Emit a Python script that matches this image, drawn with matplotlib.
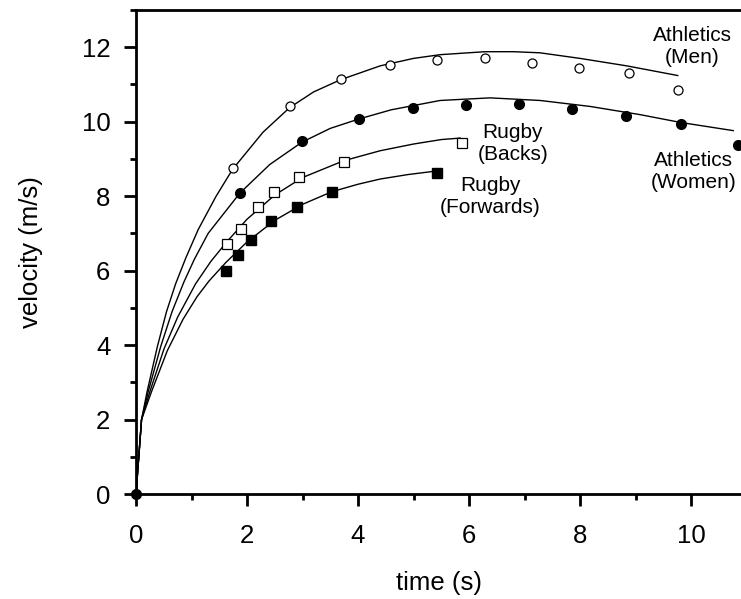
import numpy as np
import matplotlib.pyplot as plt
from matplotlib.ticker import MultipleLocator

plt.rcParams['font.family'] = ['Liberation Sans', 'DejaVu Sans']

# measured points
men_t = [1.74, 2.78, 3.69, 4.57, 5.43, 6.29, 7.13, 7.99, 8.88, 9.76]
men_v = [8.76, 10.42, 11.15, 11.51, 11.65, 11.70, 11.57, 11.45, 11.30, 10.85]

women_t = [1.87, 2.99, 4.01, 4.99, 5.94, 6.90, 7.86, 8.82, 9.81, 10.85]
women_v = [8.08, 9.47, 10.06, 10.38, 10.46, 10.47, 10.34, 10.16, 9.95, 9.38]

backs_t = [1.64, 1.90, 2.20, 2.49, 2.94, 3.74, 5.87]
backs_v = [6.72, 7.12, 7.72, 8.11, 8.51, 8.91, 9.43]

fwd_t = [1.62, 1.83, 2.08, 2.43, 2.90, 3.53, 5.43]
fwd_v = [6.00, 6.41, 6.82, 7.33, 7.70, 8.11, 8.61]

# fitted curves
men_fit_t = [0, 0.10, 0.20, 0.385, 0.55, 0.715, 0.90, 1.12, 1.44, 1.74, 2.29, 2.77,
             3.20, 3.69, 4.40, 5.00, 5.48, 6.29, 6.80, 7.28, 8.00, 8.84, 9.76]
men_fit_v = [0, 2.0, 2.75, 3.96, 4.90, 5.65, 6.35, 7.10, 7.99, 8.72, 9.72, 10.38,
             10.80, 11.13, 11.50, 11.70, 11.80, 11.88, 11.88, 11.85, 11.70, 11.50, 11.24]

women_fit_t = [0, 0.10, 0.22, 0.445, 0.65, 0.865, 1.05, 1.30, 1.87, 2.41, 2.99, 3.50,
               4.01, 4.60, 5.48, 6.38, 7.28, 8.18, 9.08, 9.81, 10.76]
women_fit_v = [0, 2.0, 2.75, 3.96, 4.90, 5.70, 6.30, 7.00, 8.08, 8.85, 9.45, 9.82,
               10.07, 10.32, 10.57, 10.64, 10.57, 10.41, 10.19, 9.98, 9.76]

backs_fit_t = [0, 0.10, 0.25, 0.505, 0.75, 1.075, 1.35, 1.64, 2.0, 2.5, 3.0, 3.74,
               4.40, 5.00, 5.50, 5.84]
backs_fit_v = [0, 2.0, 2.75, 3.90, 4.75, 5.65, 6.25, 6.78, 7.38, 8.03, 8.50, 8.95,
               9.22, 9.40, 9.52, 9.56]

fwd_fit_t = [0, 0.10, 0.28, 0.564, 0.85, 1.10, 1.315, 1.62, 2.0, 2.5, 3.0, 3.53,
             4.00, 4.40, 4.90, 5.33]
fwd_fit_v = [0, 2.0, 2.75, 3.85, 4.70, 5.30, 5.72, 6.22, 6.77, 7.35, 7.78, 8.12,
             8.32, 8.46, 8.58, 8.66]

fig = plt.figure(figsize=(7.41, 5.99), dpi=100)
ax = fig.add_axes([136 / 741, 105 / 599, 1 - 136 / 741, 484 / 599])

for t, v in [(men_fit_t, men_fit_v), (women_fit_t, women_fit_v),
             (backs_fit_t, backs_fit_v), (fwd_fit_t, fwd_fit_v)]:
    ax.plot(t, v, color='black', lw=1.0, zorder=2)

ax.plot(men_t, men_v, 'o', ms=6.5, mfc='white', mec='black', mew=0.9, zorder=3)
ax.plot(women_t, women_v, 'o', ms=7, color='black', zorder=3)
ax.plot(backs_t, backs_v, 's', ms=6.5, mfc='white', mec='black', mew=0.9, zorder=3)
ax.plot(fwd_t, fwd_v, 's', ms=7, color='black', zorder=3)
ax.plot([0], [0], 'o', ms=7, color='black', clip_on=False, zorder=5)

ax.text(10.02, 12.02, 'Athletics\n(Men)', ha='center', va='center', fontsize=15)
ax.text(10.04, 8.66, 'Athletics\n(Women)', ha='center', va='center', fontsize=15)
ax.text(6.79, 9.41, 'Rugby\n(Backs)', ha='center', va='center', fontsize=15)
ax.text(6.38, 7.98, 'Rugby\n(Forwards)', ha='center', va='center', fontsize=15)

ax.set_xlim(0, 10.9)
ax.set_ylim(0, 13)
ax.xaxis.set_major_locator(MultipleLocator(2))
ax.xaxis.set_minor_locator(MultipleLocator(1))
ax.yaxis.set_major_locator(MultipleLocator(2))
ax.yaxis.set_minor_locator(MultipleLocator(1))

ax.spines['right'].set_visible(False)
for s in ['left', 'bottom', 'top']:
    ax.spines[s].set_linewidth(2.0)
ax.tick_params(which='major', direction='out', length=8.5, width=2.0, labelsize=18.5)
ax.tick_params(axis='x', which='major', pad=13)
ax.tick_params(axis='y', which='major', pad=10)
ax.tick_params(which='minor', direction='out', length=4.5, width=2.0)
ax.tick_params(top=False, right=False, which='both')

ax.set_xlabel('time (s)', fontsize=18.5, labelpad=17)
ax.set_ylabel('velocity (m/s)', fontsize=18.5, labelpad=28)

fig.savefig('out.png', dpi=100)
